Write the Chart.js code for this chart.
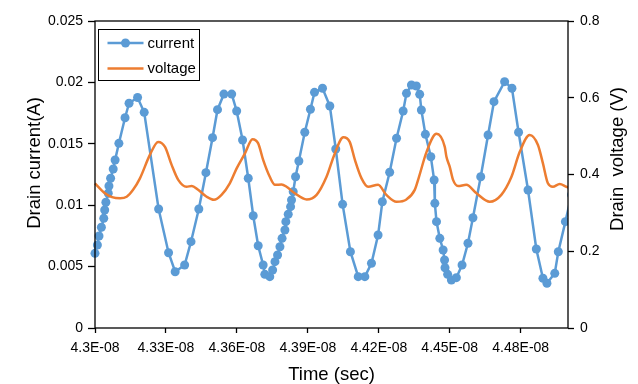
<!DOCTYPE html>
<html>
<head>
<meta charset="utf-8">
<script src="https://cdn.jsdelivr.net/npm/chart.js@4.4.1/dist/chart.umd.min.js"></script>
<style>
  html, body { margin: 0; padding: 0; background: #fff; }
  canvas { display: block; }
</style>
</head>
<body>
<canvas id="chart" width="638" height="384"></canvas>
<script>
// time values are in units of 1E-08 sec
const currentTime = [
  4.3000, 4.3010, 4.3017, 4.3027, 4.3037, 4.3041, 4.3046, 4.3056, 4.3059, 4.3066,
  4.3077, 4.3085, 4.3101, 4.3127, 4.3144, 4.3180, 4.3208, 4.3269, 4.3311, 4.3339,
  4.3379, 4.3406, 4.3439, 4.3469, 4.3497, 4.3518, 4.3545, 4.3578, 4.3599, 4.3624,
  4.3648, 4.3669, 4.3690, 4.3711, 4.3718, 4.3739, 4.3751, 4.3761, 4.3772, 4.3782,
  4.3791, 4.3803, 4.3807, 4.3817, 4.3827, 4.3831, 4.3838, 4.3848, 4.3862, 4.3887,
  4.3911, 4.3928, 4.3962, 4.3993, 4.4018, 4.4047, 4.4080, 4.4113, 4.4141, 4.4169,
  4.4197, 4.4215, 4.4246, 4.4275, 4.4303, 4.4317, 4.4338, 4.4359, 4.4373, 4.4380,
  4.4397, 4.4420, 4.4434, 4.4437, 4.4444, 4.4458, 4.4472, 4.4478, 4.4480, 4.4491,
  4.4507, 4.4528, 4.4552, 4.4577, 4.4598, 4.4631, 4.4662, 4.4687, 4.4732, 4.4763,
  4.4791, 4.4831, 4.4866, 4.4894, 4.4911, 4.4944, 4.4959, 4.4989, 4.5015
];
const currentAmps = [
  0.00608, 0.00676, 0.00749, 0.00820, 0.00893, 0.00961, 0.01024, 0.01097, 0.01156, 0.01219,
  0.01295, 0.01368, 0.01504, 0.01712, 0.01830, 0.01877, 0.01756, 0.00969, 0.00613, 0.00458,
  0.00513, 0.00703, 0.00969, 0.01265, 0.01550, 0.01778, 0.01905, 0.01905, 0.01767, 0.01531,
  0.01219, 0.00914, 0.00670, 0.00513, 0.00437, 0.00418, 0.00472, 0.00540, 0.00594, 0.00662,
  0.00730, 0.00798, 0.00866, 0.00926, 0.00988, 0.01042, 0.01110, 0.01232, 0.01360, 0.01594,
  0.01781, 0.01919, 0.01952, 0.01808, 0.01458, 0.01007, 0.00621, 0.00418, 0.00418, 0.00527,
  0.00757, 0.01028, 0.01268, 0.01545, 0.01767, 0.01911, 0.01979, 0.01971, 0.01903, 0.01775,
  0.01577, 0.01395, 0.01205, 0.01015, 0.00866, 0.00730, 0.00635, 0.00554, 0.00491, 0.00437,
  0.00391, 0.00410, 0.00513, 0.00690, 0.00898, 0.01232, 0.01572, 0.01843, 0.02006, 0.01952,
  0.01594, 0.01124, 0.00643, 0.00405, 0.00364, 0.00445, 0.00621, 0.00866, 0.01085
];
const voltageTime = [
  4.3000, 4.3042, 4.3072, 4.3106, 4.3134, 4.3161, 4.3190, 4.3232, 4.3267, 4.3296,
  4.3324, 4.3352, 4.3387, 4.3409, 4.3436, 4.3472, 4.3503, 4.3535, 4.3570, 4.3599,
  4.3634, 4.3666, 4.3690, 4.3711, 4.3739, 4.3761, 4.3789, 4.3810, 4.3845, 4.3895,
  4.3937, 4.3979, 4.4014, 4.4050, 4.4077, 4.4099, 4.4127, 4.4155, 4.4197, 4.4232,
  4.4275, 4.4317, 4.4352, 4.4370, 4.4402, 4.4444, 4.4479, 4.4486, 4.4500, 4.4514,
  4.4535, 4.4570, 4.4613, 4.4669, 4.4718, 4.4761, 4.4796, 4.4838, 4.4873, 4.4894,
  4.4915, 4.4936, 4.4965, 4.4993, 4.5007
];
const voltageVolts = [
  0.377, 0.351, 0.341, 0.338, 0.342, 0.360, 0.390, 0.451, 0.485, 0.472,
  0.425, 0.386, 0.368, 0.370, 0.360, 0.342, 0.334, 0.347, 0.377, 0.416,
  0.455, 0.492, 0.481, 0.438, 0.394, 0.373, 0.374, 0.368, 0.351, 0.335,
  0.347, 0.394, 0.455, 0.497, 0.485, 0.438, 0.390, 0.368, 0.373, 0.347,
  0.329, 0.335, 0.360, 0.394, 0.459, 0.506, 0.472, 0.446, 0.420, 0.386,
  0.370, 0.373, 0.351, 0.329, 0.347, 0.394, 0.459, 0.503, 0.477, 0.429,
  0.377, 0.368, 0.375, 0.368, 0.365
];
const timeTicks = [4.30, 4.33, 4.36, 4.39, 4.42, 4.45, 4.48];

const FONT = '"Liberation Sans", Arial, sans-serif';
const BLUE = '#5B9BD5';
const ORANGE = '#ED7D31';

const toPoints = (xs, ys) => xs.map((x, i) => ({ x: x, y: ys[i] }));

// frame, in-plot legend and axis titles (right title reads bottom-to-top)
const decorations = {
  id: 'decorations',
  afterDatasetsDraw(chart) {
    const ctx = chart.ctx;
    const a = chart.chartArea;
    ctx.save();
    ctx.strokeStyle = '#000';
    ctx.lineWidth = 1.3;
    ctx.strokeRect(a.left, a.top, a.right - a.left, a.bottom - a.top);

    // legend box
    const lx = a.left + 3.5, ly = a.top + 8.5, lw = 101, lh = 51;
    ctx.fillStyle = '#fff';
    ctx.fillRect(lx, ly, lw, lh);
    ctx.lineWidth = 1;
    ctx.strokeRect(lx, ly, lw, lh);
    ctx.font = '15px ' + FONT;
    ctx.textBaseline = 'middle';
    chart.data.datasets.forEach((ds, i) => {
      const y = ly + 13.5 + i * 25.5;
      ctx.strokeStyle = ds.borderColor;
      ctx.lineWidth = 2.5;
      ctx.beginPath();
      ctx.moveTo(lx + 9, y);
      ctx.lineTo(lx + 45, y);
      ctx.stroke();
      if (ds.pointRadius > 0) {
        ctx.fillStyle = ds.borderColor;
        ctx.beginPath();
        ctx.arc(lx + 27, y, ds.pointRadius, 0, Math.PI * 2);
        ctx.fill();
      }
      ctx.fillStyle = '#000';
      ctx.textAlign = 'left';
      ctx.fillText(ds.label, lx + 49, y + 0.5);
    });
    ctx.restore();
  },
  afterDraw(chart) {
    const ctx = chart.ctx;
    const a = chart.chartArea;
    ctx.save();
    ctx.fillStyle = '#000';
    ctx.font = '18.5px ' + FONT;
    ctx.textAlign = 'center';
    ctx.textBaseline = 'middle';
    ctx.fillText('Time (sec)', (a.left + a.right) / 2, 375);

    ctx.translate(35, 163);
    ctx.rotate(-Math.PI / 2);
    ctx.fillText('Drain current(A)', 0, 0);
    ctx.restore();

    ctx.save();
    ctx.fillStyle = '#000';
    ctx.font = '18.5px ' + FONT;
    ctx.textAlign = 'center';
    ctx.textBaseline = 'middle';
    ctx.translate(618, 159);
    ctx.rotate(-Math.PI / 2);
    ctx.fillText('Drain  voltage (V)', 0, 0);
    ctx.restore();
  }
};

const tickGrid = len => ({
  display: true,
  drawOnChartArea: false,
  drawTicks: true,
  tickLength: len,
  tickColor: '#000',
  tickWidth: 1.3
});

// plain number labels like Excel's "General" format: 0.01, 0.015, 0.2
const plainNumber = v => String(+v.toFixed(4));

new Chart(document.getElementById('chart'), {
  type: 'scatter',
  data: {
    datasets: [
      {
        label: 'current',
        data: toPoints(currentTime, currentAmps),
        showLine: true,
        borderColor: BLUE,
        backgroundColor: BLUE,
        borderWidth: 2.5,
        pointRadius: 4.5,
        pointBorderWidth: 0,
        pointHoverRadius: 4.5,
        tension: 0,
        yAxisID: 'y',
        order: 1,
        clip: { left: 6, top: 6, right: 0, bottom: 6 }
      },
      {
        label: 'voltage',
        data: toPoints(voltageTime, voltageVolts),
        showLine: true,
        borderColor: ORANGE,
        backgroundColor: ORANGE,
        borderWidth: 2.5,
        pointRadius: 0,
        pointHoverRadius: 0,
        cubicInterpolationMode: 'monotone',
        yAxisID: 'y1',
        order: 0,
        clip: { left: 6, top: 6, right: 0, bottom: 6 }
      }
    ]
  },
  options: {
    responsive: false,
    animation: false,
    devicePixelRatio: 1,
    layout: { padding: { top: 21, left: 0, right: 0, bottom: 0 } },
    plugins: {
      legend: { display: false },
      tooltip: { enabled: false }
    },
    scales: {
      x: {
        type: 'linear',
        min: 4.30,
        max: 4.50,
        afterBuildTicks: s => { s.ticks = timeTicks.map(v => ({ value: v })); },
        afterFit: s => { s.height = 56; },
        border: { display: false },
        grid: tickGrid(5),
        ticks: {
          color: '#000',
          font: { family: FONT, size: 14 },
          padding: 7,
          maxRotation: 0,
          autoSkip: false,
          callback: v => (+v.toFixed(2)) + 'E-08'
        }
      },
      y: {
        position: 'left',
        min: 0,
        max: 0.025,
        afterFit: s => { s.width = 95; },
        border: { display: false },
        grid: tickGrid(7),
        ticks: {
          stepSize: 0.005,
          color: '#000',
          font: { family: FONT, size: 14 },
          padding: 5,
          callback: plainNumber
        }
      },
      y1: {
        position: 'right',
        min: 0,
        max: 0.8,
        afterFit: s => { s.width = 70; },
        border: { display: false },
        grid: tickGrid(6),
        ticks: {
          stepSize: 0.2,
          color: '#000',
          font: { family: FONT, size: 14 },
          padding: 6,
          callback: plainNumber
        }
      }
    }
  },
  plugins: [decorations]
});
</script>
</body>
</html>
